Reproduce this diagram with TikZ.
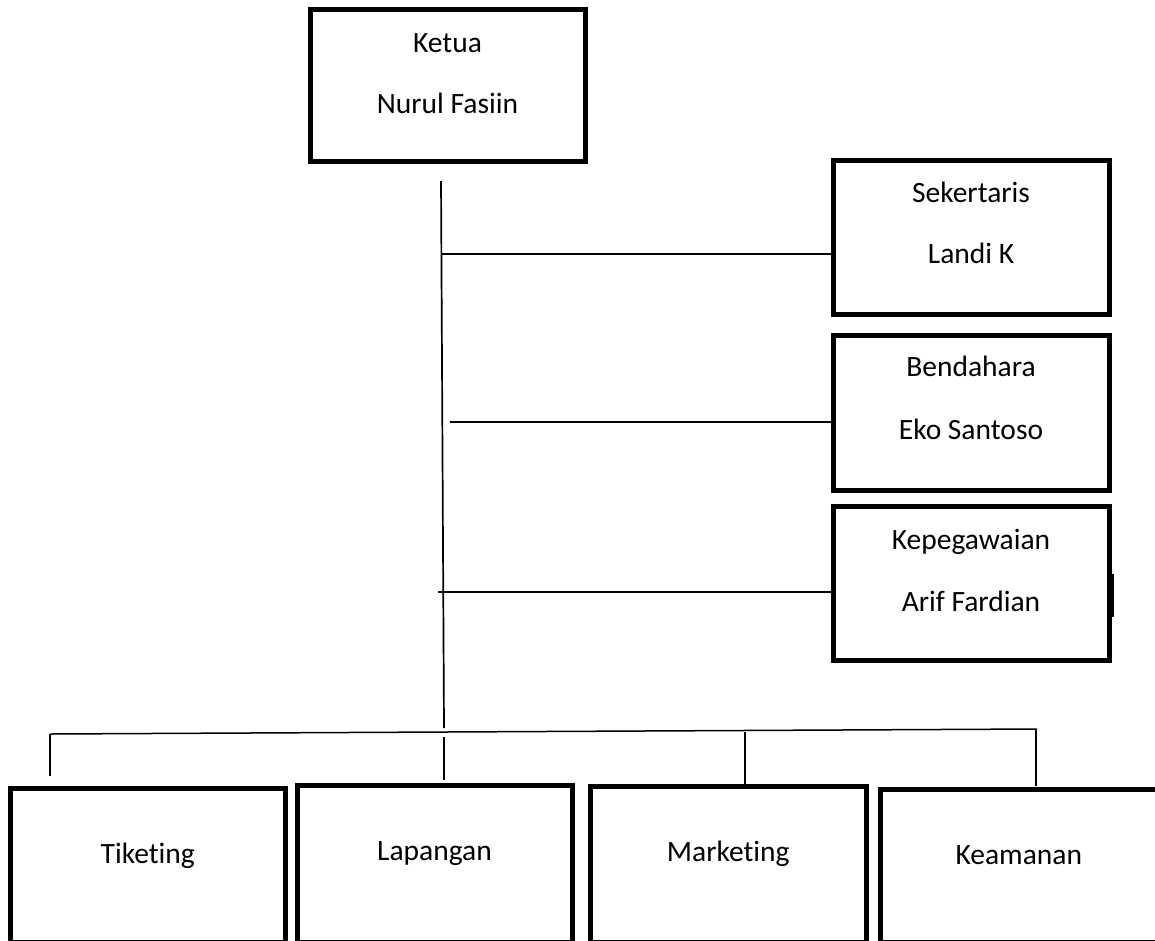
\documentclass[tikz,border=0pt]{standalone}
\usepackage{fontspec}
\setmainfont{Carlito}[Ligatures=NoCommon]
\begin{document}
\begin{tikzpicture}[x=1pt,y=-1pt,
  box/.style={draw, line width=5pt, rectangle, inner sep=0pt},
  conn/.style={line width=1.5pt},
  lbl/.style={font=\fontsize{29.5}{34}\selectfont, anchor=base, inner sep=0pt}]
\useasboundingbox (0,0) rectangle (1155,940);
\clip (0,0) rectangle (1155,940);
% top box
\node[box, minimum width=275pt, minimum height=152.5pt] (ketua) at (447.5,85.25) {};
\node[lbl] (ketuaA) at (447.5,52) {Ketua};
\node[lbl] (ketuaB) at (447.5,113) {Nurul Fasiin};
% right boxes
\node[box, minimum width=276pt, minimum height=154pt] (sek) at (971,237) {};
\node[lbl] (sekA) at (971,202) {Sekertaris};
\node[lbl] (sekB) at (971,263) {Landi K};
\node[box, minimum width=276pt, minimum height=155pt] (bend) at (971,412.5) {};
\node[lbl] (bendA) at (971,376) {Bendahara};
\node[lbl] (bendB) at (971,439) {Eko Santoso};
\node[box, minimum width=276pt, minimum height=154pt] (kep) at (971,583) {};
\node[lbl] (kepA) at (971,549) {Kepegawaian};
\node[lbl] (kepB) at (971,611) {Arif Fardian};
% bottom boxes
\node[box, minimum width=274.5pt, minimum height=154pt] (tik) at (147.75,865) {};
\node[lbl] (tikA) at (147.75,863) {Tiketing};
\node[box, minimum width=275pt, minimum height=157pt] (lap) at (434.5,863.5) {};
\node[lbl] (lapA) at (434.5,860) {Lapangan};
\node[box, minimum width=275.5pt, minimum height=156pt] (mar) at (728.25,864) {};
\node[lbl] (marA) at (728.25,861) {Marketing};
\node[box, minimum width=276.5pt, minimum height=153pt] (kea) at (1018.75,865.5) {};
\node[lbl] (keaA) at (1018.75,864) {Keamanan};
% connectors
\coordinate (vtop) at (441,181);
\coordinate (vbot) at (444,728);
\draw[line width=1.7pt] (vtop) -- (vbot);
\draw[conn] (441,254) -- (sek.west |- 0,254);
\draw[conn] (450,422) -- (bend.west |- 0,422);
\draw[conn] (438,592) -- (kep.west |- 0,592);
\coordinate (busL) at (50,734);
\coordinate (busR) at (1037,729);
\draw[conn] (busL) -- (busR);
\draw[conn] (busL) -- (50,776);
\draw[conn] (444,737) -- (444,780);
\draw[conn] (745,732) -- (745,784);
\draw[conn] (1036,730) -- (1036,786);
\coordinate (strayT) at (1113,574);
\coordinate (strayB) at (1113,617);
\draw[conn] (strayT) -- (strayB);
\end{tikzpicture}
\end{document}
